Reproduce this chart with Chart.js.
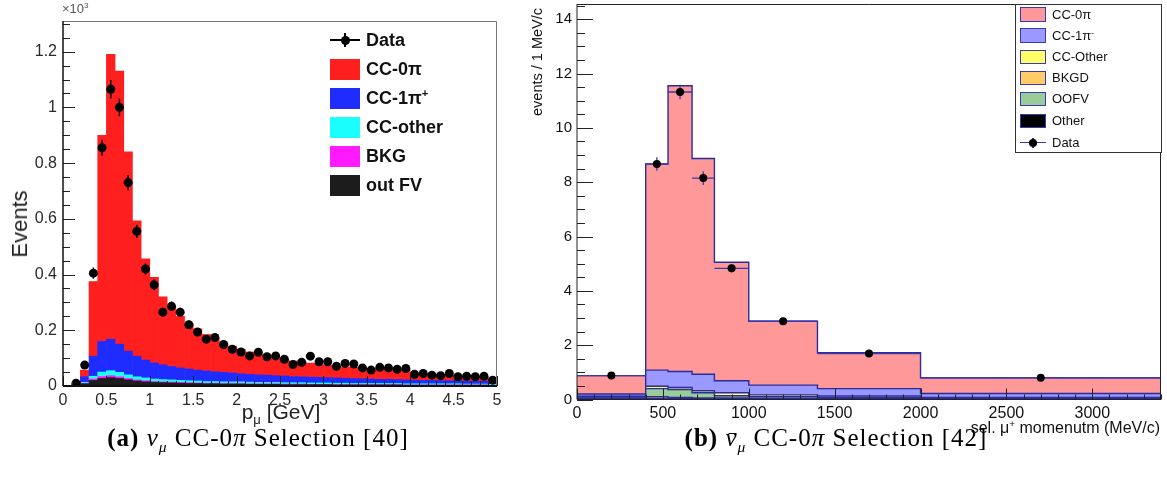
<!DOCTYPE html>
<html>
<head>
<meta charset="utf-8">
<script src="https://cdn.jsdelivr.net/npm/chart.js@4.4.1/dist/chart.umd.min.js"></script>
<style>
  body { margin: 0; background: #fff; width: 1167px; height: 479px; position: relative; overflow: hidden; font-family: "Liberation Sans", Arial, sans-serif; }
  canvas { position: absolute; top: 0; }
  #cLeft { left: 0; }
  #cRight { left: 520px; }
  .txt { position: absolute; white-space: nowrap; }
  .mid { transform: translate(-50%, -50%); }
  .rot { transform: translate(-50%, -50%) rotate(-90deg); }
  sup, sub { font-size: 0.62em; line-height: 0; }
  .cap { position: absolute; top: 424px; transform: translateX(-50%); font-family: "Liberation Serif", "DejaVu Serif", serif; font-size: 25px; letter-spacing: 1px; white-space: nowrap; }
  .nb { display: inline-block; position: relative; }
  .nb::before { content: ''; position: absolute; left: 3px; right: 1px; top: 0.36em; border-top: 1.5px solid #000; }
  .sw { position: absolute; box-sizing: border-box; }
  .lgtext { position: absolute; white-space: nowrap; }
  #rBox { position: absolute; left: 1015px; top: 4px; width: 147px; height: 149px; border: 1px solid #333; box-sizing: border-box; background: #fff; }
</style>
</head>
<body>
<canvas id="cLeft" width="520" height="430"></canvas>
<canvas id="cRight" width="647" height="435"></canvas>

<div class="txt" style="left:62px;top:1px;font-size:13px;color:#555">×10<sup>3</sup></div>
<div class="txt rot" style="left:20px;top:224px;font-size:22px;color:#222">Events</div>
<div class="txt mid" style="left:281px;top:412px;font-size:21px;color:#222">p<sub>μ</sub> [GeV]</div>

<div class="txt rot" style="left:537px;top:62px;font-size:14.5px;color:#111">events / 1 MeV/c</div>
<div class="txt" style="right:7px;top:419px;font-family:'Liberation Sans Narrow','Liberation Sans',sans-serif;font-size:16px;color:#111">sel. μ<sup>+</sup> momenutm (MeV/c)</div>

<div id="rBox"></div>
<div id="legends"></div>

<div class="cap" style="left:258px"><b>(a)</b> <i>ν</i><sub><i>μ</i></sub> CC-0<i>π</i> Selection [40]</div>
<div class="cap" style="left:836px"><b>(b)</b> <i class="nb">ν</i><sub><i>μ</i></sub> CC-0<i>π</i> Selection [42]</div>

<script>
// ===== (a) nu_mu CC-0pi : 0.1 GeV bins =====
const pCenters = [0.05, 0.15, 0.25, 0.35, 0.45, 0.55, 0.65, 0.75, 0.85, 0.95,
  1.05, 1.15, 1.25, 1.35, 1.45, 1.55, 1.65, 1.75, 1.85, 1.95,
  2.05, 2.15, 2.25, 2.35, 2.45, 2.55, 2.65, 2.75, 2.85, 2.95,
  3.05, 3.15, 3.25, 3.35, 3.45, 3.55, 3.65, 3.75, 3.85, 3.95,
  4.05, 4.15, 4.25, 4.35, 4.45, 4.55, 4.65, 4.75, 4.85, 4.95];
const outFV = [0, 2, 8, 20, 27, 30, 27, 22, 18, 15, 13, 12, 11, 10, 9, 9, 8, 8, 7, 7,
  7, 6, 6, 6, 6, 5, 5, 5, 5, 5, 5, 4, 4, 4, 4, 4, 4, 4, 4, 3, 3, 3, 3, 3, 3, 3, 3, 3, 3, 2];
const bkg = [0, 0, 2, 5, 7, 7, 6, 5, 4, 4, 3, 3, 3, 3, 3, 2, 2, 2, 2, 2,
  2, 2, 2, 2, 2, 2, 2, 2, 1, 1, 1, 1, 1, 1, 1, 1, 1, 1, 1, 1, 1, 1, 1, 1, 1, 1, 1, 1, 1, 1];
const ccOther = [0, 1, 3, 10, 16, 18, 16, 13, 11, 10, 9, 8, 8, 7, 7, 7, 6, 6, 6, 6,
  6, 6, 5, 5, 5, 5, 5, 5, 5, 5, 5, 5, 5, 4, 4, 4, 4, 4, 4, 4, 4, 4, 4, 4, 4, 4, 3, 3, 3, 3];
const cc1pi = [0, 2, 20, 72, 110, 113, 101, 85, 74, 64, 58, 53, 48, 45, 42, 39, 38, 35, 34, 32,
  29, 28, 27, 26, 24, 24, 22, 21, 21, 20, 19, 19, 18, 18, 17, 16, 15, 15, 14, 14,
  13, 12, 12, 11, 11, 10, 11, 10, 10, 10];
const cc0pi = [0, 3, 24, 268, 740, 1022, 980, 715, 486, 363, 307, 244, 215, 185, 164, 148, 131, 119, 106, 96,
  88, 80, 74, 68, 63, 59, 56, 53, 50, 47, 45, 43, 41, 40, 39, 38, 37, 35, 35, 35,
  25, 24, 22, 22, 21, 18, 17, 17, 16, 11];
const pData = [null, 10, 75, 405, 855, 1065, 1000, 730, 555, 420, 363, 265, 286, 265, 220, 194, 168, 174, 149, 132,
  122, 108, 121, 105, 108, 96, 77, 85, 107, 87, 87, 71, 81, 79, 65, 57, 67, 65, 60, 63,
  42, 45, 39, 37, 45, 33, 35, 33, 35, 21];
const pErr = [0, 3, 9, 20, 29, 33, 32, 27, 24, 20, 19, 16, 17, 16, 15, 14, 13, 13, 12, 11,
  11, 10, 11, 10, 10, 10, 9, 9, 10, 9, 9, 8, 9, 9, 8, 8, 8, 8, 8, 8,
  6, 7, 6, 6, 7, 6, 6, 6, 6, 5];
const pTicksX = [0, 0.5, 1, 1.5, 2, 2.5, 3, 3.5, 4, 4.5, 5];
const pTicksY = [0, 200, 400, 600, 800, 1000, 1200];

// ===== (b) anti-nu_mu CC-0pi : variable bins =====
const momEdges = [0, 400, 530, 670, 800, 1000, 1400, 2000, 3400];
const otherB = [0.03, 0.04, 0.04, 0.03, 0.03, 0.02, 0.02, 0.01];
const bkgdB = [0.02, 0.06, 0.04, 0.03, 0.03, 0.02, 0.02, 0.01];
const oofvB = [0.04, 0.30, 0.29, 0.19, 0.08, 0.06, 0.04, 0.03];
const ccOtherB = [0.03, 0.09, 0.07, 0.07, 0.11, 0.07, 0.05, 0.03];
const cc1piB = [0.08, 0.59, 0.59, 0.61, 0.44, 0.36, 0.27, 0.14];
const cc0piB = [0.68, 7.59, 10.52, 7.94, 4.36, 2.35, 1.32, 0.58];
const momCenters = [200, 465, 600, 735, 900, 1200, 1700, 2700];
const momData = [0.88, 8.67, 11.32, 8.15, 4.83, 2.88, 1.69, 0.80];
const momErr = [0.05, 0.25, 0.27, 0.25, 0.15, 0.08, 0.05, 0.02];
const momTicksX = [0, 500, 1000, 1500, 2000, 2500, 3000];
const momTicksY = [0, 2, 4, 6, 8, 10, 12, 14];

// === helpers ===
const xy = (ys) => ys.map((y, i) => ({ x: pCenters[i], y }));
const stepPts = (vals) => momEdges.map((x, i) => ({ x, y: vals[Math.min(i, vals.length - 1)] }));
const setTicks = (vals) => (scale) => { scale.ticks = vals.map(value => ({ value })); };

function fixSize(prop, size) {
  return (scale) => {
    scale[prop] = size;
    scale.paddingLeft = 0; scale.paddingRight = 0; scale.paddingTop = 0; scale.paddingBottom = 0;
  };
}

// ticks drawn inside the frame, ROOT style
function makeFrame(o) {
  return {
    id: 'rootFrame',
    afterDatasetsDraw(chart) {
      const { ctx, chartArea: a, scales: { x, y } } = chart;
      ctx.save();
      ctx.strokeStyle = o.tickColor;
      ctx.lineWidth = 1;
      ctx.beginPath();
      const nx = Math.round((x.max - x.min) / o.xMinor);
      for (let i = 0; i <= nx; i++) {
        const v = x.min + i * o.xMinor;
        const major = Math.abs(v / o.xMajor - Math.round(v / o.xMajor)) < 1e-6;
        const px = Math.round(x.getPixelForValue(v)) + 0.5;
        ctx.moveTo(px, a.bottom);
        ctx.lineTo(px, a.bottom - (major ? o.xLen[0] : o.xLen[1]));
      }
      const ny = Math.floor((y.max - y.min) / o.yMinor + 1e-6);
      for (let i = 0; i <= ny; i++) {
        const v = y.min + i * o.yMinor;
        const major = Math.abs(v / o.yMajor - Math.round(v / o.yMajor)) < 1e-6;
        const py = Math.round(y.getPixelForValue(v)) + 0.5;
        ctx.moveTo(a.left, py);
        ctx.lineTo(a.left + (major ? o.yLen[0] : o.yLen[1]), py);
      }
      ctx.stroke();

      // top + right box lines
      ctx.strokeStyle = o.boxColor;
      ctx.lineWidth = 1;
      ctx.beginPath();
      ctx.moveTo(a.left, a.top + 0.5); ctx.lineTo(a.right - 0.5, a.top + 0.5); ctx.lineTo(a.right - 0.5, a.bottom);
      ctx.stroke();
      // axes
      ctx.strokeStyle = o.axisColor;
      ctx.lineWidth = o.yAxisWidth;
      ctx.beginPath(); ctx.moveTo(a.left, a.top); ctx.lineTo(a.left, a.bottom); ctx.stroke();
      ctx.lineWidth = o.xAxisWidth;
      ctx.beginPath(); ctx.moveTo(a.left, a.bottom); ctx.lineTo(a.right, a.bottom); ctx.stroke();
      ctx.restore();
    }
  };
}

function makeErrBars(dsIndex, xs, ys, errs, color, width, edges) {
  return {
    id: 'errBars',
    beforeDatasetDraw(chart, args) {
      if (args.index !== dsIndex) return;
      const { ctx, scales: { x, y } } = chart;
      ctx.save();
      ctx.strokeStyle = color;
      ctx.lineWidth = width;
      ctx.beginPath();
      ys.forEach((v, i) => {
        if (v === null) return;
        const px = x.getPixelForValue(xs[i]);
        ctx.moveTo(px, y.getPixelForValue(v - errs[i]));
        ctx.lineTo(px, y.getPixelForValue(v + errs[i]));
        if (edges) {
          const py = y.getPixelForValue(v);
          ctx.moveTo(x.getPixelForValue(edges[i]), py);
          ctx.lineTo(x.getPixelForValue(edges[i + 1]), py);
        }
      });
      ctx.stroke();
      ctx.restore();
    }
  };
}

// === (a) chart ===
const leftTickFont = { family: '"Liberation Sans", Arial, sans-serif', size: 16 };
const pDataPts = pData.map((y, i) => ({ x: pCenters[i], y })).filter(p => p.y !== null);

new Chart(document.getElementById('cLeft'), {
  type: 'bar',
  data: {
    datasets: [
      { label: 'out FV', data: xy(outFV), backgroundColor: '#1c1c1c' },
      { label: 'BKG', data: xy(bkg), backgroundColor: '#ff1aff' },
      { label: 'CC-other', data: xy(ccOther), backgroundColor: '#1affff' },
      { label: 'CC-1pi+', data: xy(cc1pi), backgroundColor: '#1f2cff' },
      { label: 'CC-0pi', data: xy(cc0pi), backgroundColor: '#ff1f1f' },
      { type: 'scatter', label: 'Data', data: pDataPts, stack: 'data', order: -1,
        pointRadius: 4.5, pointBackgroundColor: '#000', pointBorderWidth: 0 }
    ]
  },
  options: {
    responsive: false,
    animation: false,
    layout: { padding: { top: 21, right: 23, left: 0, bottom: 0 } },
    datasets: { bar: { barPercentage: 1, categoryPercentage: 1, borderWidth: 0 } },
    scales: {
      x: {
        type: 'linear', stacked: true, offset: false, min: 0, max: 5,
        grid: { display: false, drawTicks: false }, border: { display: false },
        ticks: { autoSkip: false, maxRotation: 0, padding: 5,
          font: leftTickFont, color: '#2a2a2a', callback: v => String(Math.round(v * 10) / 10) },
        afterBuildTicks: setTicks(pTicksX),
        afterFit: fixSize('height', 44)
      },
      y: {
        type: 'linear', stacked: true, min: 0, max: 1310,
        grid: { display: false, drawTicks: false }, border: { display: false },
        ticks: { autoSkip: false, padding: 6,
          font: leftTickFont, color: '#2a2a2a', callback: v => String(Math.round(v) / 1000) },
        afterBuildTicks: setTicks(pTicksY),
        afterFit: fixSize('width', 63)
      }
    },
    plugins: { legend: { display: false }, tooltip: { enabled: false } }
  },
  plugins: [
    makeFrame({ xMinor: 0.1, xMajor: 0.5, yMinor: 50, yMajor: 200, xLen: [10, 5], yLen: [12, 7],
      tickColor: '#222', boxColor: '#777', axisColor: '#111', xAxisWidth: 2, yAxisWidth: 1.5 }),
    makeErrBars(5, pCenters, pData, pErr, '#000', 1.5, null)
  ]
});

// === (b) chart ===
const lineCol = '#2b2b9e';
const histSet = (label, vals, fill, idx) => ({
  label, data: stepPts(vals), stepped: true, backgroundColor: fill, borderColor: lineCol,
  borderWidth: 1.4, pointRadius: 0, fill: idx === 0 ? 'origin' : '-1'
});

new Chart(document.getElementById('cRight'), {
  type: 'line',
  data: {
    datasets: [
      histSet('Other', otherB, '#000000', 0),
      histSet('BKGD', bkgdB, '#ffcc66', 1),
      histSet('OOFV', oofvB, '#99cc99', 2),
      histSet('CC-Other', ccOtherB, '#ffff66', 3),
      histSet('CC-1pi-', cc1piB, '#9999ff', 4),
      histSet('CC-0pi', cc0piB, '#ff9999', 5),
      { type: 'scatter', label: 'Data', stack: 'data', order: -1,
        data: momData.map((y, i) => ({ x: momCenters[i], y })),
        pointRadius: 4, pointBackgroundColor: '#000', pointBorderWidth: 0, showLine: false }
    ]
  },
  options: {
    responsive: false,
    animation: false,
    layout: { padding: { top: 4, right: 6, left: 0, bottom: 0 } },
    scales: {
      x: {
        type: 'linear', min: 0, max: 3400, offset: false,
        grid: { display: false, drawTicks: false }, border: { display: false },
        ticks: { autoSkip: false, maxRotation: 0, padding: 4,
          font: { family: '"Liberation Sans Narrow", "Liberation Sans", sans-serif', size: 16 }, color: '#111',
          callback: v => String(v) },
        afterBuildTicks: setTicks(momTicksX),
        afterFit: fixSize('height', 35.5)
      },
      y: {
        type: 'linear', stacked: true, min: 0, max: 14.56,
        grid: { display: false, drawTicks: false }, border: { display: false },
        ticks: { autoSkip: false, padding: 5,
          font: { family: '"Liberation Sans", Arial, sans-serif', size: 15 }, color: '#111',
          callback: v => String(v) },
        afterBuildTicks: setTicks(momTicksY),
        afterFit: fixSize('width', 57)
      }
    },
    plugins: { legend: { display: false }, tooltip: { enabled: false } }
  },
  plugins: [
    makeFrame({ xMinor: 100, xMajor: 500, yMinor: 0.5, yMajor: 2, xLen: [11, 5], yLen: [16, 8],
      tickColor: '#222', boxColor: '#222', axisColor: '#222', xAxisWidth: 1, yAxisWidth: 1 }),
    makeErrBars(6, momCenters, momData, momErr, '#3a3ab0', 1.3, momEdges)
  ]
});

// === legends (HTML) ===
const legendWrap = document.getElementById('legends');
function addSwatch(left, top, w, h, color, border) {
  const d = document.createElement('div');
  d.className = 'sw';
  d.style.cssText = `left:${left}px;top:${top}px;width:${w}px;height:${h}px;background:${color};` +
    (border ? `border:1px solid ${border};` : '');
  legendWrap.appendChild(d);
}
function addText(left, cy, html, css) {
  const d = document.createElement('div');
  d.className = 'lgtext';
  d.style.cssText = `left:${left}px;top:${cy - 12}px;height:24px;line-height:24px;${css}`;
  d.innerHTML = html;
  legendWrap.appendChild(d);
}
function addDataSample(x0, x1, cy, r, lineColor, barH) {
  addSwatch(x0, cy - 0.75, x1 - x0, 1.5, lineColor);
  addSwatch((x0 + x1) / 2 - 0.75, cy - barH, 1.5, 2 * barH, lineColor);
  const dot = document.createElement('div');
  dot.className = 'sw';
  dot.style.cssText = `left:${(x0 + x1) / 2 - r}px;top:${cy - r}px;width:${2 * r}px;height:${2 * r}px;border-radius:50%;background:#000;`;
  legendWrap.appendChild(dot);
}

// (a) legend
const leftLegend = [
  ['CC-0π', '#ff1f1f', 69],
  ['CC-1π<sup>+</sup>', '#1f2cff', 98],
  ['CC-other', '#1affff', 127],
  ['BKG', '#ff1aff', 156],
  ['out FV', '#1c1c1c', 185]
];
addDataSample(330, 360, 40, 4.5, '#000', 7);
addText(366, 40, 'Data', 'font-weight:bold;font-size:18px;color:#111');
leftLegend.forEach(([lab, col, cy]) => {
  addSwatch(330, cy - 10.5, 30, 21, col);
  addText(366, cy, lab, 'font-weight:bold;font-size:18px;color:#111');
});

// (b) legend
const rightLegend = [
  ['CC-0π', '#ff9999', 14.5],
  ['CC-1π<sup>-</sup>', '#9999ff', 35.5],
  ['CC-Other', '#ffff66', 56.7],
  ['BKGD', '#ffcc66', 77.8],
  ['OOFV', '#99cc99', 99.3],
  ['Other', '#000000', 120.8]
];
rightLegend.forEach(([lab, col, cy]) => {
  addSwatch(1020, cy - 7.2, 26, 14.4, col, '#3a3ab0');
  addText(1052, cy, lab, 'font-size:13px;color:#111');
});
addDataSample(1020, 1046, 142.7, 4, '#3a3ab0', 5);
addText(1052, 142.7, 'Data', 'font-size:13px;color:#111');
</script>
</body>
</html>
